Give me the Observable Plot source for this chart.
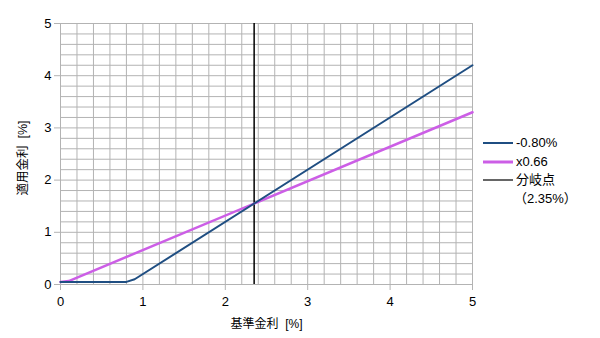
<!DOCTYPE html>
<html>
<head>
<meta charset="utf-8">
<script src="https://cdn.jsdelivr.net/npm/d3@7"></script>
<script src="https://cdn.jsdelivr.net/npm/@observablehq/plot@0.6"></script>
<style>
  html, body { margin: 0; padding: 0; background: #fff; }
  #wrap { position: relative; width: 600px; height: 338px; font-family: "Liberation Sans", "Noto Sans CJK JP", sans-serif; }
  #legend { position: absolute; left: 483px; top: 134px; font-size: 13px; color: #000; line-height: 18.5px; }
  #legend .row { display: flex; align-items: center; height: 18.5px; }
  #legend svg { margin-right: 3px; }
  #legend .sub { padding-left: 31px; }
</style>
</head>
<body>
<div id="wrap"><div id="legend"></div></div>
<script>
// Data
const spreadX = [0, 0.8, 0.9, 5];          // 基準金利 (%)
const spreadY = [0.05, 0.05, 0.1, 4.2];     // -0.80% series
const ratioX = [0, 0.1, 5];                 // 基準金利 (%)
const ratioY = [0.05, 0.066, 3.3];          // x0.66 series
const breakEven = [2.35];                    // 分岐点
const ticks = [0, 1, 2, 3, 4, 5];
const gridTicks = d3.range(0, 26).map(i => i / 5);
const seriesNames = ["-0.80%", "x0.66", "分岐点"];
const colors = ["#1f4e82", "#cc5ee6", "#000000"];

const spread = spreadX.map((x, i) => ({x, y: spreadY[i]}));
const ratio = ratioX.map((x, i) => ({x, y: ratioY[i]}));

const chart = Plot.plot({
  width: 600,
  height: 338,
  marginLeft: 60,
  marginRight: 128,
  marginTop: 23,
  marginBottom: 54,
  style: {fontFamily: '"Liberation Sans", "Noto Sans CJK JP", sans-serif', fontSize: "13px", background: "transparent", overflow: "visible"},
  x: {domain: [0, 5]},
  y: {domain: [0, 5]},
  marks: [
    Plot.gridX(gridTicks, {stroke: "#b3b3b3", strokeOpacity: 1, strokeWidth: 1}),
    Plot.gridY(gridTicks, {stroke: "#b3b3b3", strokeOpacity: 1, strokeWidth: 1}),
    Plot.axisX(ticks, {tickSize: 6, tickPadding: 6, stroke: "#b3b3b3", strokeOpacity: 1, fill: "#000", fontSize: 13, label: null, tickFormat: d => d}),
    Plot.axisY(ticks, {tickSize: 6, tickPadding: 3, stroke: "#b3b3b3", strokeOpacity: 1, fill: "#000", fontSize: 13, label: null, tickFormat: d => d}),
    Plot.ruleX(breakEven, {stroke: colors[2], strokeWidth: 1.5}),
    Plot.line(ratio, {x: "x", y: "y", stroke: colors[1], strokeWidth: 2.5}),
    Plot.line(spread, {x: "x", y: "y", stroke: colors[0], strokeWidth: 2}),
    Plot.text(["基準金利\u00a0 [%]"], {frameAnchor: "bottom", textAnchor: "middle", dy: 40, lineAnchor: "middle", fontSize: 12, fill: "#000"}),
    Plot.text(["適用金利\u00a0 [%]"], {frameAnchor: "left", textAnchor: "middle", dx: -38, dy: 4, rotate: -90, lineAnchor: "middle", fontSize: 12.5, fill: "#000"})
  ]
});
document.getElementById("wrap").prepend(chart);

const widths = [2, 3, 1.2];
const legend = document.getElementById("legend");
seriesNames.forEach((name, i) => {
  const row = document.createElement("div");
  row.className = "row";
  row.innerHTML = `<svg width="30" height="6"><line x1="0" x2="30" y1="3" y2="3" stroke="${colors[i]}" stroke-width="${widths[i]}"/></svg><span>${name}</span>`;
  legend.appendChild(row);
});
const sub = document.createElement("div");
sub.className = "sub";
sub.textContent = "（2.35%）";
legend.appendChild(sub);
</script>
</body>
</html>
